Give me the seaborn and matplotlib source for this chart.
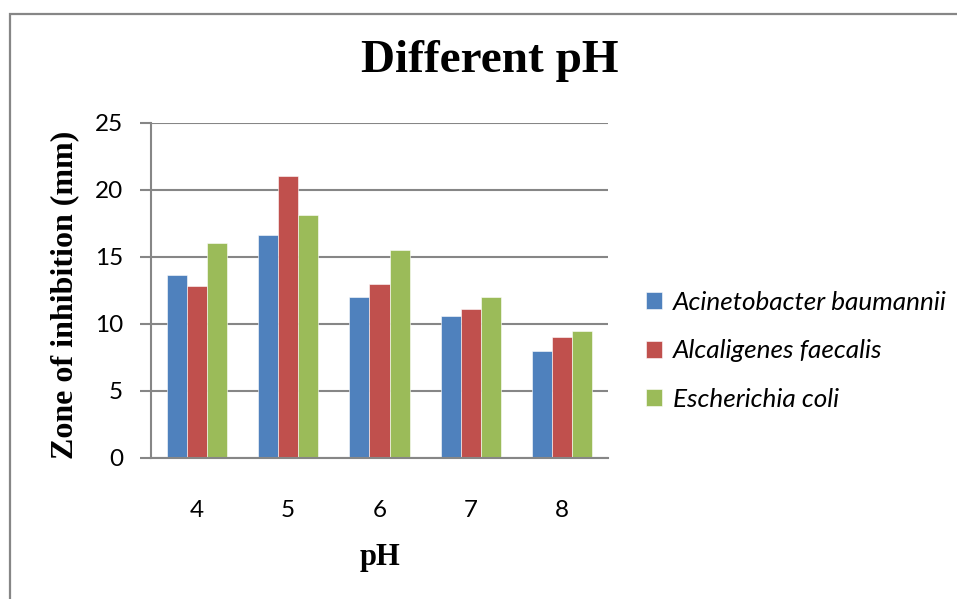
import matplotlib
matplotlib.use("Agg")
import matplotlib.pyplot as plt
import seaborn as sns
import pandas as pd
from matplotlib.patches import Rectangle

ph_levels = ["4", "5", "6", "7", "8"]
strains = ["Acinetobacter baumannii", "Alcaligenes faecalis", "Escherichia coli"]
acinetobacter = [13.6, 16.6, 12.0, 10.6, 8.0]
alcaligenes = [12.8, 21.0, 13.0, 11.1, 9.0]
ecoli = [16.0, 18.1, 15.5, 12.0, 9.5]
colors = ["#4F81BD", "#C0504D", "#9BBB59"]
y_ticks = [0, 5, 10, 15, 20, 25]

rows = []
for name, vals in zip(strains, [acinetobacter, alcaligenes, ecoli]):
    for ph, v in zip(ph_levels, vals):
        rows.append({"pH": ph, "Strain": name, "Zone": v})
df = pd.DataFrame(rows)

sns.set_theme(style="white")
plt.rcParams["font.family"] = ["Lato", "DejaVu Sans"]
plt.rcParams["text.color"] = "black"

W, H = 957, 599
fig = plt.figure(figsize=(W / 100, H / 100), dpi=100)
ax = fig.add_axes([151 / W, 1 - 458 / H, (608 - 151) / W, (458 - 122.5) / H])

sns.barplot(data=df, x="pH", y="Zone", hue="Strain", order=ph_levels,
            hue_order=strains, palette=colors, width=0.66, ax=ax,
            saturation=1, edgecolor="white", linewidth=0.4, legend=True)

ax.set_ylim(0, 25)
ax.set_yticks(y_ticks)
ax.set_xlim(-0.5, len(ph_levels) - 0.5)
ax.yaxis.grid(True, color="#868686", linewidth=1.5)
ax.set_axisbelow(True)
for s in ["top", "right"]:
    ax.spines[s].set_visible(False)
for s in ["left", "bottom"]:
    ax.spines[s].set_color("#868686")
    ax.spines[s].set_linewidth(1.5)
ax.tick_params(axis="y", which="major", left=True, length=8, width=1.5,
               color="#868686", pad=12, labelsize=17.5, labelcolor="black")
ax.tick_params(axis="x", bottom=False, pad=24, labelsize=17.5, labelcolor="black")
ax.set_xlabel("")
ax.set_ylabel("")

handles, labels = ax.get_legend_handles_labels()
ax.get_legend().remove()
fig.legend(handles, labels, loc="upper left",
           bbox_to_anchor=(646 / W, 1 - 291 / H), frameon=False,
           prop={"family": ["Lato", "DejaVu Sans"], "style": "italic", "size": 18.8},
           handlelength=0.62, handleheight=0.62, handletextpad=0.4,
           labelspacing=0.97, borderpad=0, borderaxespad=0, labelcolor="black")

fig.text(490 / W, 1 - 61 / H, "Different pH", ha="center", va="center",
         family="Liberation Serif", weight="bold", fontsize=34, color="black")
fig.text(65 / W, 1 - 295 / H, "Zone of inhibition (mm)", ha="center", va="center",
         rotation=90, family="Liberation Serif", weight="bold", fontsize=23,
         color="black")
fig.text(380 / W, 1 - 557 / H, "pH", ha="center", va="center",
         family="Liberation Serif", weight="bold", fontsize=22, color="black")

fig.patches.append(Rectangle((10 / W, -0.1), 1.2, 1 - 14 / H + 0.1,
                             transform=fig.transFigure, fill=False,
                             edgecolor="#868686", linewidth=1.6))

fig.savefig("out.png", dpi=100)
